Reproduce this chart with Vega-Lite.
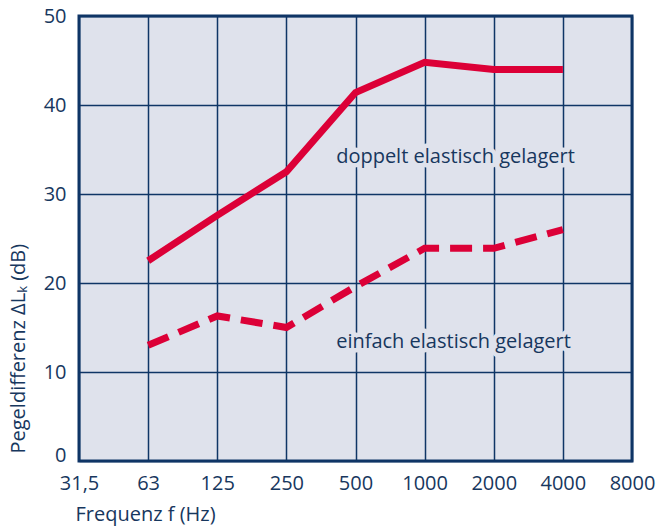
{
  "$schema": "https://vega.github.io/schema/vega-lite/v6.json",
  "width": 553,
  "height": 445,
  "autosize": {"type": "none"},
  "padding": {"left": 79, "top": 16, "right": 27, "bottom": 66},
  "background": "white",
  "config": {
    "font": "Open Sans",
    "view": {"fill": "#dfe2ec", "stroke": "#0f3566", "strokeWidth": 3},
    "axis": {"labelFont": "Open Sans", "titleFont": "Open Sans", "labelColor": "#17375e", "titleColor": "#17375e", "labelFontSize": 20, "titleFontSize": 20, "titleFontWeight": "normal", "grid": true, "gridColor": "#0f3566", "gridWidth": 1.5, "gridOpacity": 1, "domain": false, "ticks": false}
  },
  "datasets": {
    "lines": [
      {"x": 1, "v": 22.5, "s": "doppelt"},
      {"x": 2, "v": 27.6, "s": "doppelt"},
      {"x": 3, "v": 32.5, "s": "doppelt"},
      {"x": 4, "v": 41.4, "s": "doppelt"},
      {"x": 5, "v": 44.8, "s": "doppelt"},
      {"x": 6, "v": 44.0, "s": "doppelt"},
      {"x": 7, "v": 44.0, "s": "doppelt"},
      {"x": 1, "v": 13.0, "s": "einfach"},
      {"x": 2, "v": 16.3, "s": "einfach"},
      {"x": 3, "v": 15.0, "s": "einfach"},
      {"x": 4, "v": 19.6, "s": "einfach"},
      {"x": 5, "v": 23.9, "s": "einfach"},
      {"x": 6, "v": 23.9, "s": "einfach"},
      {"x": 7, "v": 26.0, "s": "einfach"}
    ],
    "labels": [
      {"x": 3.72, "v": 34.2, "t": "doppelt elastisch gelagert"},
      {"x": 3.72, "v": 13.4, "t": "einfach elastisch gelagert"}
    ]
  },
  "layer": [
    {
      "data": {"name": "lines"},
      "transform": [{"filter": "datum.s === 'doppelt'"}],
      "mark": {"type": "line", "color": "#dc0037", "strokeWidth": 7, "strokeCap": "butt", "strokeJoin": "miter"},
      "encoding": {
        "x": {"field": "x", "type": "quantitative", "scale": {"domain": [0, 8], "nice": false, "zero": false},
          "axis": {"values": [0,1,2,3,4,5,6,7,8], "labelFlush": false, "labelExpr": "['31,5','63','125','250','500','1000','2000','4000','8000'][datum.value]", "labelPadding": 12, "title": "Frequenz f (Hz)", "titleAnchor": "start", "titleAlign": "left", "titleX": -4, "titleY": 59, "titleBaseline": "alphabetic"}},
        "y": {"field": "v", "type": "quantitative", "scale": {"domain": [0, 50], "nice": false},
          "axis": {"values": [0,10,20,30,40,50], "labelPadding": 13, "labelBaseline": {"condition": {"test": "datum.value === 0", "value": "alphabetic"}, "value": "middle"}, "title": "Pegeldifferenz ΔLₖ (dB)", "titleAnchor": "start", "titleAlign": "left", "titleAngle": -90, "titleX": -55, "titleY": 437, "titleBaseline": "alphabetic"}}
      }
    },
    {
      "data": {"name": "lines"},
      "transform": [{"filter": "datum.s === 'einfach'"}],
      "mark": {"type": "line", "color": "#dc0037", "strokeWidth": 7, "strokeDash": [22, 11], "strokeCap": "butt", "strokeJoin": "miter"},
      "encoding": {
        "x": {"field": "x", "type": "quantitative"},
        "y": {"field": "v", "type": "quantitative"}
      }
    },
    {
      "data": {"name": "labels"},
      "mark": {"type": "text", "align": "left", "baseline": "middle", "fontSize": 20, "font": "Open Sans", "fill": "#dfe2ec", "stroke": "#dfe2ec", "strokeWidth": 9, "strokeJoin": "round"},
      "encoding": {
        "x": {"field": "x", "type": "quantitative"},
        "y": {"field": "v", "type": "quantitative"},
        "text": {"field": "t"}
      }
    },
    {
      "data": {"name": "labels"},
      "mark": {"type": "text", "align": "left", "baseline": "middle", "fontSize": 20, "color": "#17375e", "font": "Open Sans"},
      "encoding": {
        "x": {"field": "x", "type": "quantitative"},
        "y": {"field": "v", "type": "quantitative"},
        "text": {"field": "t"}
      }
    }
  ]
}
